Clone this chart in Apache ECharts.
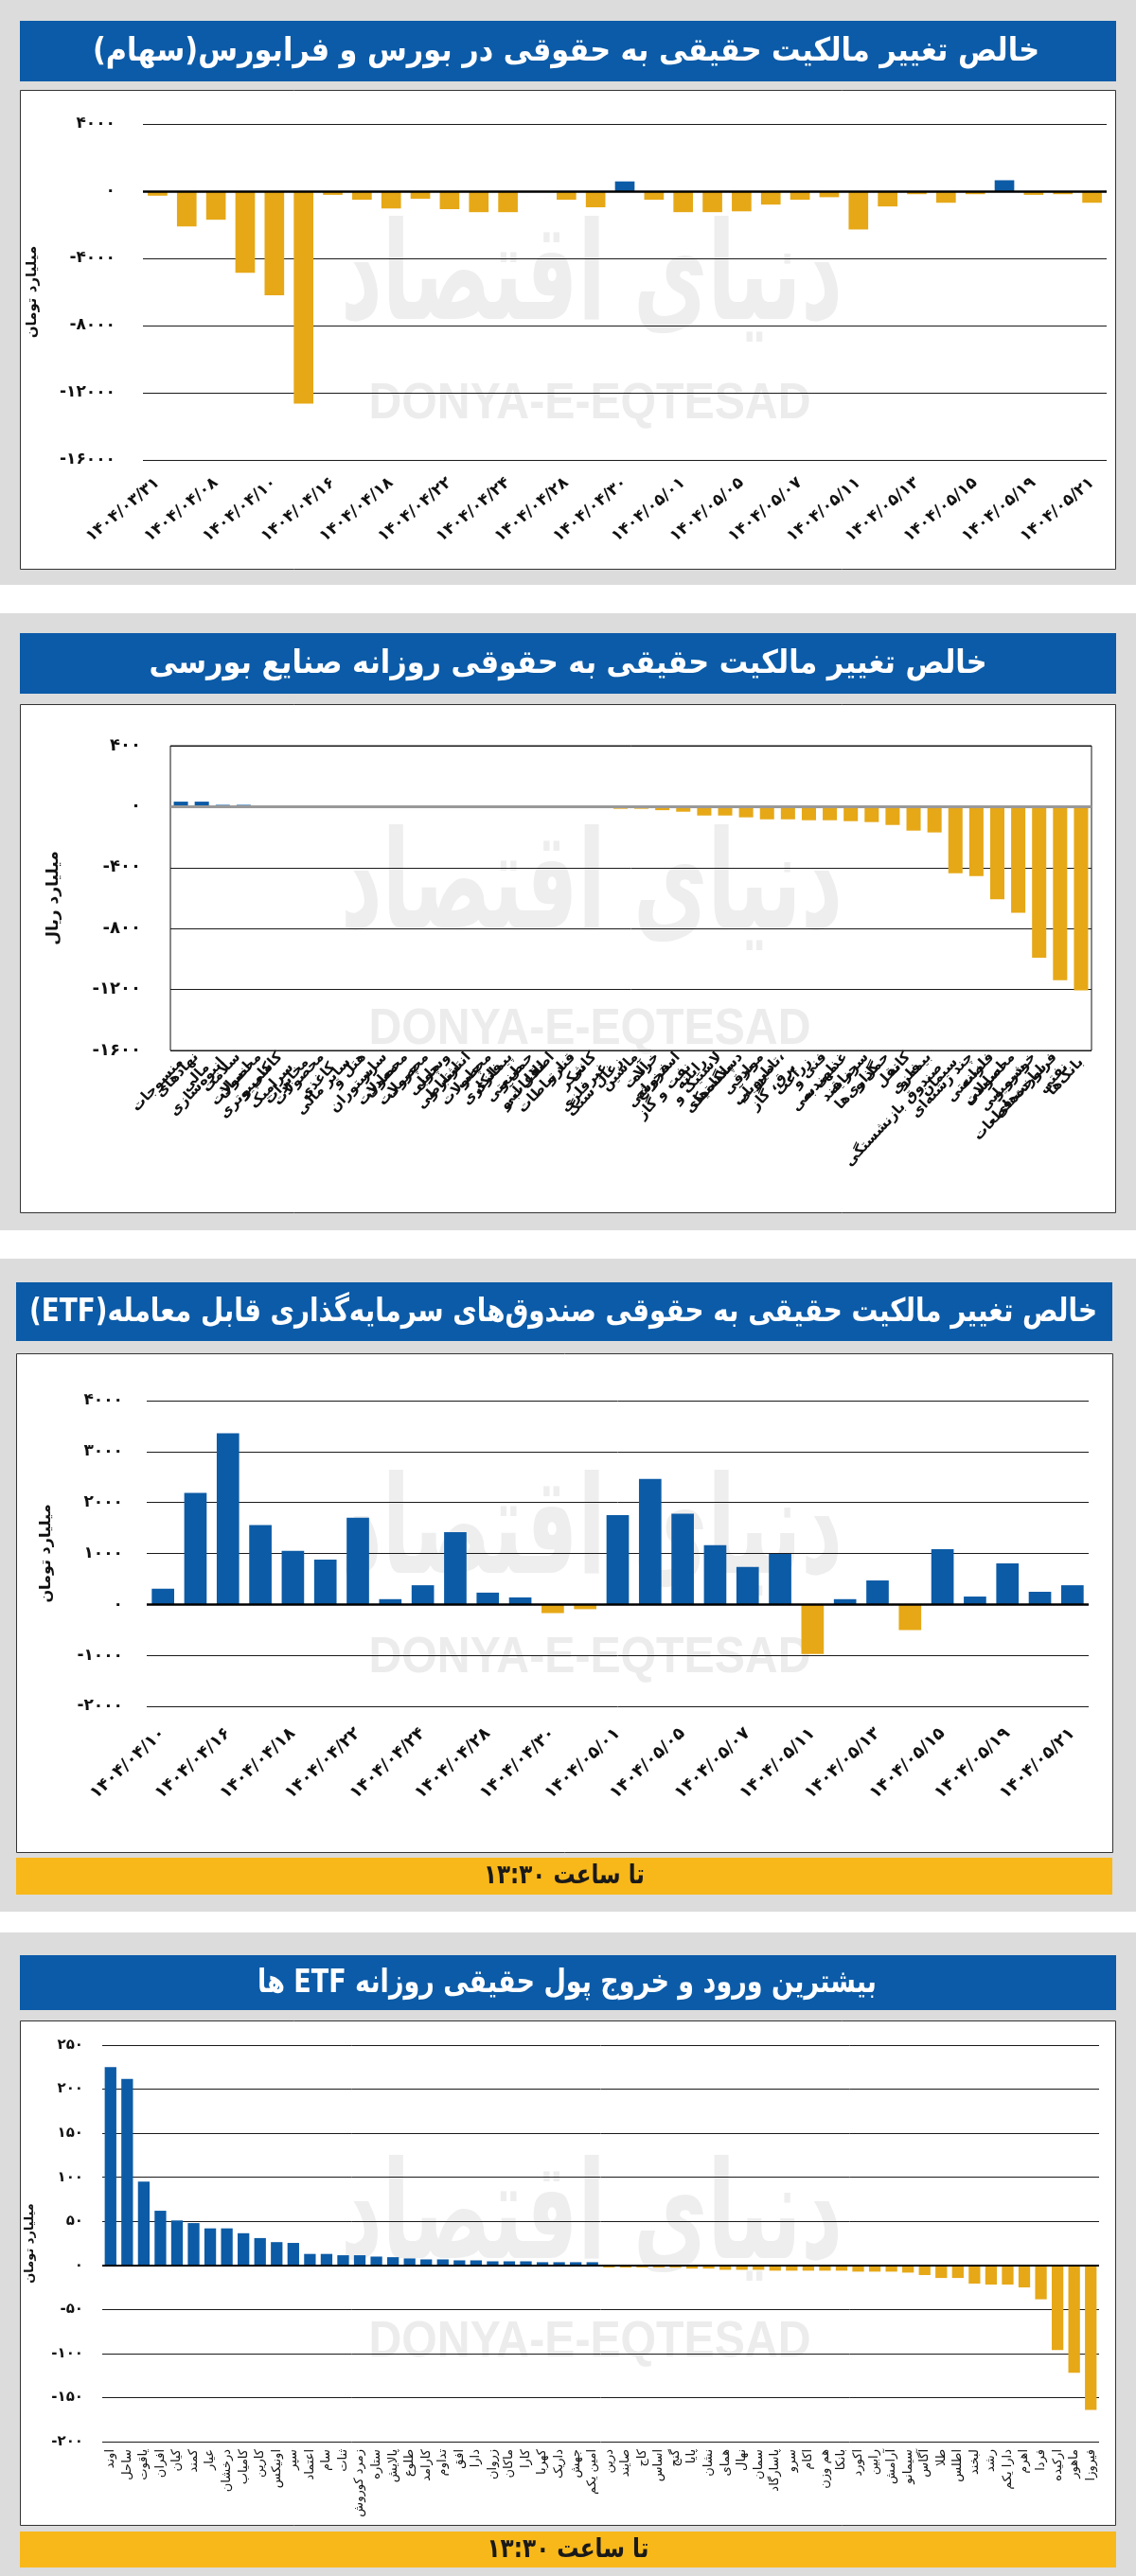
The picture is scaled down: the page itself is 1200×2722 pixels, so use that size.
<!DOCTYPE html>
<html><head><meta charset="utf-8">
<script src="https://cdn.jsdelivr.net/npm/echarts@6/dist/echarts.min.js"></script>
<style>html,body{margin:0;padding:0;background:#fff}#c{width:1200px;height:2722px}</style>
</head><body><div id="c"></div>
<script>
// ---------- DATA ----------
const title1 = 'خالص تغییر مالکیت حقیقی به حقوقی در بورس و فرابورس(سهام)';
const title2 = 'خالص تغییر مالکیت حقیقی به حقوقی روزانه صنایع بورسی';
const title3 = 'خالص تغییر مالکیت حقیقی به حقوقی صندوق‌های سرمایه‌گذاری قابل معامله(ETF)';
const title4 = 'بیشترین ورود و خروج پول حقیقی روزانه ETF ها';
const footerText = 'تا ساعت ۱۳:۳۰';
const unitToman = 'میلیارد تومان';
const unitRial = 'میلیارد ریال';
const watermarkFa = 'دنیای اقتصاد';
const watermarkEn = 'DONYA-E-EQTESAD';

const p1Dates = ['۱۴۰۴/۰۳/۳۱','۱۴۰۴/۰۴/۰۷','۱۴۰۴/۰۴/۰۸','۱۴۰۴/۰۴/۰۹','۱۴۰۴/۰۴/۱۰','۱۴۰۴/۰۴/۱۱','۱۴۰۴/۰۴/۱۶','۱۴۰۴/۰۴/۱۷','۱۴۰۴/۰۴/۱۸','۱۴۰۴/۰۴/۲۱','۱۴۰۴/۰۴/۲۲','۱۴۰۴/۰۴/۲۳','۱۴۰۴/۰۴/۲۴','۱۴۰۴/۰۴/۲۵','۱۴۰۴/۰۴/۲۸','۱۴۰۴/۰۴/۲۹','۱۴۰۴/۰۴/۳۰','۱۴۰۴/۰۴/۳۱','۱۴۰۴/۰۵/۰۱','۱۴۰۴/۰۵/۰۴','۱۴۰۴/۰۵/۰۵','۱۴۰۴/۰۵/۰۶','۱۴۰۴/۰۵/۰۷','۱۴۰۴/۰۵/۰۸','۱۴۰۴/۰۵/۱۱','۱۴۰۴/۰۵/۱۲','۱۴۰۴/۰۵/۱۳','۱۴۰۴/۰۵/۱۴','۱۴۰۴/۰۵/۱۵','۱۴۰۴/۰۵/۱۸','۱۴۰۴/۰۵/۱۹','۱۴۰۴/۰۵/۲۰','۱۴۰۴/۰۵/۲۱'];
const p1Values = [-270,-2100,-1700,-4860,-6200,-12650,-220,-510,-1030,-450,-1070,-1250,-1250,0,-510,-960,580,-510,-1250,-1250,-1200,-800,-510,-360,-2280,-910,-180,-690,-180,650,-220,-180,-690];

const p2Sectors = ['منسوجات','نهادهای\nمالی','انبوه‌سازی','سلامت\nانسان','محصولات\nکامپیوتری','کاشی و\nسرامیک','مخابرات','محصولات\nکاغذی','سایر مالی','هتل و\nرستوران','سایر\nمعادن','محصولات\nچرمی','محصولات\nچوبی','وسایل\nارتباطی','انتشار و\nچاپ','محصولات\nفلزی','پیمانکاری\nصنعتی','حمل و\nنقل آبی','اطلاعات و\nارتباطات','قند و\nشکر','کانی\nغیرفلزی','زغال سنگ','ماشین\nآلات','خرده\nفروشی','استخراج\nنفت و گاز','رایانه','لاستیک و\nپلاستیک','دستگاه‌های\nبرقی','مواد\nدارویی','تامین آب،\nبرق، گاز','زراعت','فنی و\nمهندسی','غذایی به\nجز قند','سرمایه\nگذاری‌ها','حمل و\nنقل','کانه\nفلزی','بیمه و\nصندوق بازنشستگی','سیمان','چند رشته‌ای\nصنعتی','فلزات\nاساسی','محصولات\nشیمیایی','خودرو و\nساخت قطعات','فراورده‌های\nنفتی','بانک‌ها'];
const p2Values = [33,33,12,12,0,0,0,0,0,0,0,0,0,0,0,0,0,0,0,0,0,-14,-14,-23,-33,-58,-58,-70,-83,-83,-89,-89,-95,-101,-120,-157,-169,-437,-456,-608,-697,-992,-1139,-1206];

const p3Dates = ['۱۴۰۴/۰۴/۱۰','۱۴۰۴/۰۴/۱۱','۱۴۰۴/۰۴/۱۶','۱۴۰۴/۰۴/۱۷','۱۴۰۴/۰۴/۱۸','۱۴۰۴/۰۴/۲۱','۱۴۰۴/۰۴/۲۲','۱۴۰۴/۰۴/۲۳','۱۴۰۴/۰۴/۲۴','۱۴۰۴/۰۴/۲۵','۱۴۰۴/۰۴/۲۸','۱۴۰۴/۰۴/۲۹','۱۴۰۴/۰۴/۳۰','۱۴۰۴/۰۴/۳۱','۱۴۰۴/۰۵/۰۱','۱۴۰۴/۰۵/۰۴','۱۴۰۴/۰۵/۰۵','۱۴۰۴/۰۵/۰۶','۱۴۰۴/۰۵/۰۷','۱۴۰۴/۰۵/۰۸','۱۴۰۴/۰۵/۱۱','۱۴۰۴/۰۵/۱۲','۱۴۰۴/۰۵/۱۳','۱۴۰۴/۰۵/۱۴','۱۴۰۴/۰۵/۱۵','۱۴۰۴/۰۵/۱۸','۱۴۰۴/۰۵/۱۹','۱۴۰۴/۰۵/۲۰','۱۴۰۴/۰۵/۲۱'];
const p3Values = [308,2188,3359,1556,1051,880,1701,103,376,1419,231,137,-171,-94,1752,2462,1778,1162,735,991,-974,103,470,-504,1085,154,803,248,376];

const p4Funds = ['اوند','ساحل','یاقوت','افران','کیان','کمند','عیار','درخشان','کامیاب','کارین','اونیکس','سپر','اعتماد','سام','ثنات','زمرد کوروش','ستاره','پالایش','طلوع','کارامد','تداوم','افق','دارا','زروان','ماکان','کارا','کهربا','داریک','جهش','امین یکم','درین','صایند','کاج','اساس','گنج','پایا','نشان','همای','نهال','سمان','پاسارگاد','سرو','اکام','هم وزن','بانکا','اکورد','رابین','آرامش','سیمانو','آگاس','طلا','اطلس','لبخند','رشد','دارا یکم','اهرم','فردا','ارکیده','ماهور','فیروزا'];
const p4Values = [225,211.5,95,62,51,48,42,42,36.5,31,26.4,25.5,13,13,11.5,11.5,10,9.3,7.9,6.8,6.8,5.7,5.7,4.6,4.6,4.6,3.6,3.6,3.6,3.6,-2.5,-2.5,-2.5,-2.5,-2.5,-3.6,-3.6,-5,-5,-5,-6,-6,-6,-6,-6,-7.1,-7.1,-7.1,-8.2,-11,-14.3,-14.3,-20.7,-21.8,-21.8,-25,-38.5,-96,-122,-164];

// ---------- STYLE ----------
const BLUE = '#0c5ba6', ORANGE = '#e6a817', TITLEBLUE = '#0b5ba8', FOOT = '#f8b81a', CARD = '#dcdcdc';
const FF = 'DejaVu Sans';
const FA = '۰۱۲۳۴۵۶۷۸۹';
const fa = v => String(v).replace(/\d/g, d => FA[+d]);
const RTL = s => '\u202B' + s + '\u202C';

const mctx = document.createElement('canvas').getContext('2d');
function fitText(text, size, weight, family, targetW, x, y, fill, z, sy) {
  mctx.font = weight + ' ' + size + 'px ' + family;
  const w = mctx.measureText(text).width || targetW;
  return {type: 'text', x: x, y: y, scaleX: targetW / w, scaleY: sy || 1, z: z, silent: true,
    style: {text: text, fontSize: size, fontWeight: weight, fontFamily: family, fill: fill, align: 'center', verticalAlign: 'middle'}};
}
function rect(x, y, w, h, fill, z, stroke) {
  const r = {type: 'rect', shape: {x: x, y: y, width: w, height: h}, style: {fill: fill}, z: z, silent: true};
  if (stroke) { r.style.stroke = stroke; r.style.lineWidth = 1; }
  return r;
}

const elements = [
  rect(0, 0, 1200, 618, CARD, -20), rect(0, 648, 1200, 652, CARD, -20),
  rect(0, 1330, 1200, 690, CARD, -20), rect(0, 2042, 1200, 680, CARD, -20),
  rect(21, 22, 1158, 64, TITLEBLUE, -15), rect(21, 669, 1158, 64, TITLEBLUE, -15),
  rect(17, 1355, 1158, 62, TITLEBLUE, -15), rect(21, 2066, 1158, 58, TITLEBLUE, -15),
  rect(21.5, 95.5, 1157, 506, '#fff', -15, '#333'), rect(21.5, 744.5, 1157, 537, '#fff', -15, '#333'),
  rect(17.5, 1430.5, 1158, 527, '#fff', -15, '#333'), rect(21.5, 2135.5, 1157, 533, '#fff', -15, '#333'),
  rect(17, 1963, 1158, 39, FOOT, -15), rect(21, 2675, 1158, 38, FOOT, -15),
  fitText(RTL(title1), 34, 'bold', FF, 1000, 598, 55, '#fff', 10),
  fitText(RTL(title2), 34, 'bold', FF, 885, 600, 702, '#fff', 10),
  fitText(RTL(title3), 34, 'bold', FF, 1128, 595, 1387, '#fff', 10),
  fitText(RTL(title4), 34, 'bold', FF, 654, 599, 2096, '#fff', 10),
  fitText(RTL(footerText), 28, 'bold', FF, 170, 596, 1983, '#1a1a1a', 10),
  fitText(RTL(footerText), 28, 'bold', FF, 171, 600, 2695, '#1a1a1a', 10)
];
[[300, 427], [943, 1088], [1625, 1752], [2349, 2475]].forEach(p => {
  elements.push(fitText(RTL(watermarkFa), 120, 'bold', FF, 530, 625, p[0], '#eeeeee', -10, 1.2));
  elements.push(fitText(watermarkEn, 48, 'bold', '"Liberation Sans", Arial, sans-serif', 467, 623, p[1], '#ececec', -10, 1.1));
});

const grids = [
  {left: 151, top: 131, width: 1018, height: 355},
  {left: 180, top: 788, width: 973, height: 322, show: true, borderColor: '#111', borderWidth: 1, backgroundColor: 'transparent'},
  {left: 155, top: 1480, width: 995, height: 323},
  {left: 108, top: 2161, width: 1053, height: 419}
];

function xAx(i, data, lab) {
  return {type: 'category', gridIndex: i, data: data, axisLine: {show: false}, axisTick: {show: false},
    axisLabel: Object.assign({color: '#111', fontFamily: FF}, lab)};
}
function yAx(i, min, max, step, name, gap, nameSize, labSize, labMargin) {
  return {type: 'value', gridIndex: i, min: min, max: max, interval: step,
    name: name, nameLocation: 'middle', nameRotate: 90, nameGap: gap,
    nameTextStyle: {fontSize: nameSize, fontWeight: 'bold', color: '#111', fontFamily: FF},
    axisLine: {show: false}, axisTick: {show: false},
    axisLabel: {formatter: v => fa(v), fontSize: labSize, fontWeight: 'bold', color: '#111', fontFamily: FF, margin: labMargin},
    splitLine: {show: true, lineStyle: {color: '#1a1a1a', width: 1}}};
}
function bars(i, data, w, zeroColor, zeroW) {
  return {type: 'bar', xAxisIndex: i, yAxisIndex: i, data: data, barWidth: w,
    itemStyle: {color: p => (p.value >= 0 ? BLUE : ORANGE)},
    markLine: {silent: true, symbol: 'none', label: {show: false},
      lineStyle: {color: zeroColor, width: zeroW, type: 'solid'}, data: [{yAxis: 0}]}};
}

const chart = echarts.init(document.getElementById('c'), null, {renderer: 'canvas'});
chart.setOption({
  animation: false,
  backgroundColor: '#fff',
  graphic: {elements: elements},
  grid: grids,
  xAxis: [
    xAx(0, p1Dates, {interval: 1, rotate: 40, fontSize: 17, fontWeight: 'bold', margin: 22}),
    xAx(1, p2Sectors, {interval: 0, rotate: 47, fontSize: 15, fontWeight: 'bold', margin: 10, lineHeight: 16}),
    xAx(2, p3Dates, {interval: 1, rotate: 43, fontSize: 18, fontWeight: 'bold', margin: 26}),
    xAx(3, p4Funds, {interval: 0, rotate: 90, fontSize: 13, margin: 8})
  ],
  yAxis: [
    yAx(0, -16000, 4000, 4000, unitToman, 109, 15, 17, 29),
    yAx(1, -1600, 400, 400, unitRial, 115, 17, 18, 31),
    yAx(2, -2000, 4000, 1000, unitToman, 98, 16, 17, 25),
    yAx(3, -200, 250, 50, unitToman, 70, 13, 15, 20)
  ],
  series: [
    bars(0, p1Values, '67%', '#000', 2.5),
    bars(1, p2Values, '68%', '#999', 3),
    bars(2, p3Values, '69%', '#000', 2.5),
    bars(3, p4Values, '70%', '#000', 2)
  ]
});
</script></body></html>
